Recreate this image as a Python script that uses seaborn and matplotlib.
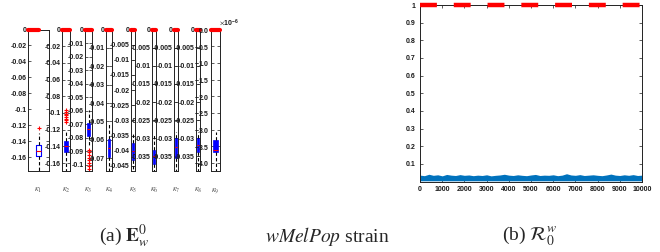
import numpy as np
import pandas as pd
import matplotlib
matplotlib.use("Agg")
import matplotlib.pyplot as plt
from matplotlib.ticker import MultipleLocator, FuncFormatter, ScalarFormatter
import seaborn as sns

sns.set_style("ticks")
plt.rcParams['font.family'] = ['Liberation Sans', 'DejaVu Sans']
plt.rcParams['axes.unicode_minus'] = False
plt.rcParams['mathtext.fontset'] = 'stix'

# ---------------- data ----------------
param_labels = [r"$\kappa_1$", r"$\kappa_2$", r"$\kappa_3$", r"$\kappa_4$", r"$\kappa_5$",
                r"$\kappa_6$", r"$\kappa_7$", r"$\kappa_8$", r"$\kappa_9$"]
medians = [-0.1517, -0.140, -0.074, -0.0645, -0.040, -0.035, -0.0325, -0.0318, -3.6e-6]
q1s = [-0.1577, -0.147, -0.079, -0.0694, -0.0432, -0.037, -0.0353, -0.0337, -3.67e-6]
q3s = [-0.1445, -0.133, -0.0695, -0.0597, -0.0373, -0.0333, -0.030, -0.0298, -3.31e-6]
whis_lo = [-0.177, -0.1695, -0.087, -0.077, -0.0467, -0.039, -0.039, -0.039, -4.24e-6]
whis_hi = [-0.129, -0.123, -0.0596, -0.051, -0.034, -0.029, -0.0283, -0.0283, -3.06e-6]
outliers = [
    [-0.123],
    [-0.097, -0.099, -0.101, -0.103, -0.105, -0.107, -0.109, -0.111],
    [-0.089, -0.091, -0.093, -0.095, -0.097, -0.099, -0.101, -0.103],
    [], [], [], [], [], [],
]
zero_outlier = [0, 0, 0, 0, 0, 0, 0, 0, 0]
y_bottom = [-0.177, -0.1695, -0.1048, -0.077, -0.0467, -0.039, -0.039, -0.039, -4.24e-6]
y_step = [0.02, 0.02, 0.01, 0.01, 0.005, 0.005, 0.005, 0.005, 0.5e-6]

# R0^w panel
iter_x = [0, 200, 400, 600, 800, 1000, 1200, 1400, 1600, 1800, 2000, 2200, 2400, 2600,
          2800, 3000, 3200, 3400, 3600, 3800, 4000, 4200, 4400, 4600, 4800, 5000, 5200,
          5400, 5600, 5800, 6000, 6200, 6400, 6600, 6800, 7000, 7200, 7400, 7600, 7800,
          8000, 8200, 8400, 8600, 8800, 9000, 9200, 9400, 9600, 9800, 10000]
r0_upper = [0.036, 0.033, 0.041, 0.035, 0.038, 0.032, 0.040, 0.036, 0.034, 0.039, 0.035,
            0.037, 0.033, 0.036, 0.034, 0.038, 0.032, 0.035, 0.037, 0.041, 0.036, 0.034,
            0.038, 0.035, 0.033, 0.037, 0.040, 0.034, 0.036, 0.035, 0.038, 0.033, 0.036,
            0.044, 0.037, 0.035, 0.039, 0.034, 0.036, 0.038, 0.035, 0.033, 0.037, 0.042,
            0.036, 0.034, 0.038, 0.035, 0.039, 0.034, 0.036]
r0_lower = [0.004] * len(iter_x)
r0_max_x = [0, 10000]
r0_max_y = [1, 1]

# ---------------- figure ----------------
W, H = 660, 252
fig = plt.figure(figsize=(6.6, 2.52), dpi=100)

ax_px = [(28, 49), (62, 70), (85, 92), (106, 112), (131, 135),
         (152, 156), (174, 178), (196, 199.5), (211, 220)]
top_px, bot_px = 29.5, 171
tick_color = "#1a1a1a"
blue = "#0000ff"


def fmt(v, pos):
    if abs(v) < 1e-9:
        return "0"
    return "%g" % round(v, 6)


for i, (x0, x1) in enumerate(ax_px):
    ax = fig.add_axes([x0 / W, (H - bot_px) / H, (x1 - x0) / W, (bot_px - top_px) / H])
    ax.set_facecolor("white")
    stats = [dict(med=medians[i], q1=q1s[i], q3=q3s[i], whislo=whis_lo[i],
                  whishi=whis_hi[i], fliers=outliers[i])]
    if i == 0:
        ax.bxp(stats, positions=[1], widths=0.2, showcaps=False, patch_artist=False,
               boxprops=dict(color=blue, lw=0.8),
               whiskerprops=dict(color="black", lw=0.8, linestyle=(0, (3, 2))),
               medianprops=dict(color="red", lw=0.8),
               flierprops=dict(marker="+", markeredgecolor="red", markersize=3, mew=0.8))
    else:
        ax.bxp(stats, positions=[1], widths=0.45, showcaps=False, patch_artist=True,
               boxprops=dict(facecolor=blue, edgecolor=blue, lw=0.5),
               whiskerprops=dict(color="black", lw=0.8, linestyle=(0, (3, 2))),
               medianprops=dict(color="red", lw=0.8),
               flierprops=dict(marker="+", markeredgecolor="red", markersize=3, mew=0.8))
    # outliers sitting at zero drawn as a thick red band at the top
    ax.axhline(zero_outlier[i], xmin=0, xmax=(0.5 if i == 0 else 1.0),
               color="red", lw=3, clip_on=False, zorder=5)
    ax.set_xlim(0.5, 1.5)
    ax.set_ylim(y_bottom[i], 0)
    ax.yaxis.set_major_locator(MultipleLocator(y_step[i]))
    if i == 8:
        sf = ScalarFormatter(useMathText=True)
        sf.set_powerlimits((0, 0))
        ax.yaxis.set_major_formatter(sf)
        ot = ax.yaxis.get_offset_text()
        ot.set_fontsize(5)
        ot.set_fontweight("bold")
        ot.set_x(0.9)
    else:
        ax.yaxis.set_major_formatter(FuncFormatter(fmt))
    ax.set_xticks([1])
    ax.set_xticklabels([param_labels[i]])
    ax.tick_params(axis="y", direction="in", left=True, right=True, length=2, width=0.5,
                   labelsize=5, pad=1, colors=tick_color)
    ax.tick_params(axis="x", length=0, labelsize=6, pad=11, colors="#555555")
    for lab in ax.get_yticklabels():
        lab.set_fontweight("bold")
    for sp in ax.spines.values():
        sp.set_linewidth(0.7)
        sp.set_color("#222222")
        sp.set_visible(True)

# right panel
axr = fig.add_axes([420 / W, (H - 181.5) / H, 222 / W, 176.5 / H])
axr.fill_between(iter_x, r0_lower, r0_upper, color="#0072BD", lw=0)
sns.lineplot(x=r0_max_x, y=r0_max_y, ax=axr, color="red", lw=3.2,
             linestyle=(0, (3.8, 3.8)), clip_on=False, zorder=5)
axr.set_xlim(0, 10000)
axr.set_ylim(0, 1)
axr.set_xticks(np.arange(0, 10001, 1000))
axr.set_yticks(np.arange(0.1, 1.01, 0.1))
axr.yaxis.set_major_formatter(FuncFormatter(lambda v, p: "%g" % round(v, 2)))
axr.tick_params(direction="in", top=True, right=True, length=2, width=0.5,
                labelsize=5, pad=3, colors=tick_color)
for lab in axr.get_xticklabels() + axr.get_yticklabels():
    lab.set_fontweight("bold")
for sp in axr.spines.values():
    sp.set_linewidth(0.7)
    sp.set_color("#222222")
    sp.set_visible(True)

# captions
cap_kw = dict(fontsize=14, family=["Liberation Serif", "DejaVu Serif"], ha="center", va="center")
fig.text(124 / W, 1 - 236 / H, r"(a) $\mathbf{E}_w^0$", **cap_kw)
fig.text(327 / W, 1 - 236 / H, r"$\mathit{wMelPop}$ strain", **cap_kw)
fig.text(530 / W, 1 - 236 / H, r"(b) $\mathcal{R}_0^w$", **cap_kw)

fig.savefig("out.png", dpi=100)
